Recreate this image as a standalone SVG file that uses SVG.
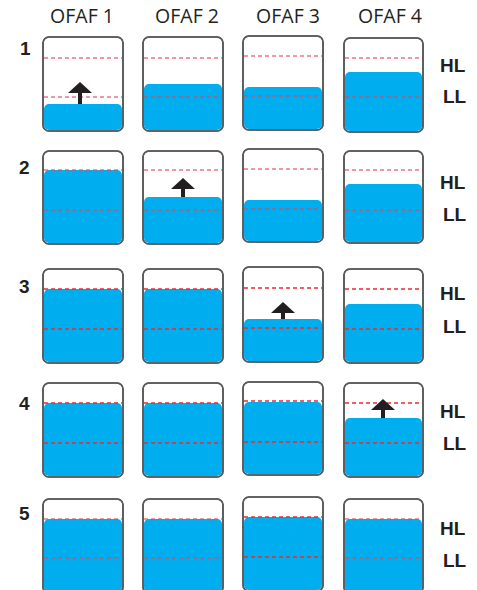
<svg xmlns="http://www.w3.org/2000/svg" width="477" height="590" viewBox="0 0 477 590">
<style>
.hdr{font-family:"Open Sans","Liberation Sans",sans-serif;font-size:19.5px;fill:#231f20;text-anchor:middle}
.num{font-family:"Liberation Sans",Arial,sans-serif;font-size:19px;font-weight:bold;fill:#231f20}
.lvl{font-family:"Liberation Sans",Arial,sans-serif;font-size:19px;font-weight:bold;fill:#231f20}
.tank{fill:#ffffff;stroke:#58595b;stroke-width:1.6}
.outline{fill:none;stroke:#58595b;stroke-width:1.6}
.water{fill:#00aeef}
.da{stroke:#e04858;stroke-opacity:0.75;stroke-width:1.5;stroke-dasharray:4 3;fill:none}
.db{stroke:#ee2a2e;stroke-width:1.3;stroke-dasharray:4 3;fill:none}
.arrow{fill:#231f20}
</style>
<g id="headers">
<text class="hdr" x="82" y="23">OFAF 1</text>
<text class="hdr" x="187" y="23">OFAF 2</text>
<text class="hdr" x="288" y="23">OFAF 3</text>
<text class="hdr" x="390" y="23">OFAF 4</text>
</g>
<g id="row-numbers">
<text class="num" x="20" y="55">1</text>
<text class="num" x="19" y="174">2</text>
<text class="num" x="19" y="293">3</text>
<text class="num" x="19" y="410">4</text>
<text class="num" x="19" y="520">5</text>
</g>
<g id="level-labels">
<text class="lvl" x="440" y="72">HL</text><text class="lvl" x="443" y="103">LL</text>
<text class="lvl" x="440" y="189">HL</text><text class="lvl" x="443" y="221">LL</text>
<text class="lvl" x="440" y="300">HL</text><text class="lvl" x="443" y="333">LL</text>
<text class="lvl" x="440" y="418">HL</text><text class="lvl" x="443" y="450">LL</text>
<text class="lvl" x="440" y="535">HL</text><text class="lvl" x="443" y="567">LL</text>
</g>

<!-- Row 1 -->
<g id="r1c1"><rect class="tank" x="43" y="37" width="80" height="94" rx="6"/><rect class="water" x="44" y="104" width="78" height="26" rx="5"/><line class="da" x1="44" y1="58" x2="122" y2="58"/><line class="da" x1="44" y1="97" x2="122" y2="97"/><rect class="outline" x="43" y="37" width="80" height="94" rx="6"/><path class="arrow" d="M80,82 L92,93 L82,93 L82,104 L78,104 L78,93 L68,93 Z"/></g>
<g id="r1c2"><rect class="tank" x="143" y="37" width="80" height="94" rx="6"/><rect class="water" x="144" y="84" width="78" height="46" rx="5"/><line class="da" x1="144" y1="58" x2="222" y2="58"/><line class="da" x1="144" y1="97" x2="222" y2="97"/><rect class="outline" x="143" y="37" width="80" height="94" rx="6"/></g>
<g id="r1c3"><rect class="tank" x="243" y="36" width="80" height="94" rx="6"/><rect class="water" x="244" y="87" width="78" height="42" rx="5"/><line class="da" x1="244" y1="56" x2="322" y2="56"/><line class="da" x1="244" y1="96" x2="322" y2="96"/><rect class="outline" x="243" y="36" width="80" height="94" rx="6"/></g>
<g id="r1c4"><rect class="tank" x="344" y="38" width="79" height="94" rx="6"/><rect class="water" x="345" y="72" width="77" height="59" rx="5"/><line class="da" x1="345" y1="58" x2="422" y2="58"/><line class="da" x1="345" y1="97" x2="422" y2="97"/><rect class="outline" x="344" y="38" width="79" height="94" rx="6"/></g>

<!-- Row 2 -->
<g id="r2c1"><rect class="tank" x="43" y="151" width="80" height="93" rx="6"/><rect class="water" x="44" y="170" width="78" height="73" rx="5"/><line class="da" x1="44" y1="170" x2="122" y2="170"/><line class="da" x1="44" y1="210" x2="122" y2="210"/><rect class="outline" x="43" y="151" width="80" height="93" rx="6"/></g>
<g id="r2c2"><rect class="tank" x="143" y="151" width="80" height="93" rx="6"/><rect class="water" x="144" y="197" width="78" height="46" rx="5"/><line class="da" x1="144" y1="170" x2="222" y2="170"/><line class="da" x1="144" y1="210" x2="222" y2="210"/><rect class="outline" x="143" y="151" width="80" height="93" rx="6"/><path class="arrow" d="M183,178 L195,189 L185,189 L185,197 L181,197 L181,189 L171,189 Z"/></g>
<g id="r2c3"><rect class="tank" x="243" y="149" width="80" height="93" rx="6"/><rect class="water" x="244" y="200" width="78" height="41" rx="5"/><line class="da" x1="244" y1="169" x2="322" y2="169"/><line class="da" x1="244" y1="209" x2="322" y2="209"/><rect class="outline" x="243" y="149" width="80" height="93" rx="6"/></g>
<g id="r2c4"><rect class="tank" x="344" y="151" width="79" height="92" rx="6"/><rect class="water" x="345" y="184" width="77" height="58" rx="5"/><line class="da" x1="345" y1="170" x2="422" y2="170"/><line class="da" x1="345" y1="210" x2="422" y2="210"/><rect class="outline" x="344" y="151" width="79" height="92" rx="6"/></g>

<!-- Row 3 -->
<g id="r3c1"><rect class="tank" x="43" y="269" width="80" height="94" rx="6"/><rect class="water" x="44" y="289" width="78" height="73" rx="5"/><line class="db" x1="44" y1="289" x2="122" y2="289"/><line class="db" x1="44" y1="329" x2="122" y2="329"/><rect class="outline" x="43" y="269" width="80" height="94" rx="6"/></g>
<g id="r3c2"><rect class="tank" x="143" y="269" width="80" height="94" rx="6"/><rect class="water" x="144" y="289" width="78" height="73" rx="5"/><line class="db" x1="144" y1="289" x2="222" y2="289"/><line class="db" x1="144" y1="329" x2="222" y2="329"/><rect class="outline" x="143" y="269" width="80" height="94" rx="6"/></g>
<g id="r3c3"><rect class="tank" x="243" y="267" width="80" height="95" rx="6"/><rect class="water" x="244" y="319" width="78" height="42" rx="5"/><line class="db" x1="244" y1="288" x2="322" y2="288"/><line class="db" x1="244" y1="328" x2="322" y2="328"/><rect class="outline" x="243" y="267" width="80" height="95" rx="6"/><path class="arrow" d="M283,302 L295,313 L285,313 L285,319 L281,319 L281,313 L271,313 Z"/></g>
<g id="r3c4"><rect class="tank" x="344" y="269" width="79" height="94" rx="6"/><rect class="water" x="345" y="304" width="77" height="58" rx="5"/><line class="db" x1="345" y1="289" x2="422" y2="289"/><line class="db" x1="345" y1="329" x2="422" y2="329"/><rect class="outline" x="344" y="269" width="79" height="94" rx="6"/></g>

<!-- Row 4 -->
<g id="r4c1"><rect class="tank" x="43" y="383" width="80" height="94" rx="6"/><rect class="water" x="44" y="403" width="78" height="73" rx="5"/><line class="db" x1="44" y1="403" x2="122" y2="403"/><line class="db" x1="44" y1="443" x2="122" y2="443"/><rect class="outline" x="43" y="383" width="80" height="94" rx="6"/></g>
<g id="r4c2"><rect class="tank" x="143" y="383" width="80" height="94" rx="6"/><rect class="water" x="144" y="403" width="78" height="73" rx="5"/><line class="db" x1="144" y1="403" x2="222" y2="403"/><line class="db" x1="144" y1="443" x2="222" y2="443"/><rect class="outline" x="143" y="383" width="80" height="94" rx="6"/></g>
<g id="r4c3"><rect class="tank" x="243" y="382" width="80" height="93" rx="6"/><rect class="water" x="244" y="402" width="78" height="72" rx="5"/><line class="db" x1="244" y1="401" x2="322" y2="401"/><line class="db" x1="244" y1="442" x2="322" y2="442"/><rect class="outline" x="243" y="382" width="80" height="93" rx="6"/></g>
<g id="r4c4"><rect class="tank" x="344" y="383" width="79" height="94" rx="6"/><rect class="water" x="345" y="418" width="77" height="58" rx="5"/><line class="db" x1="345" y1="403" x2="422" y2="403"/><line class="db" x1="345" y1="443" x2="422" y2="443"/><rect class="outline" x="344" y="383" width="79" height="94" rx="6"/><path class="arrow" d="M383,399 L395,410 L385,410 L385,418 L381,418 L381,410 L371,410 Z"/></g>

<!-- Row 5 -->
<g id="r5c1"><rect class="tank" x="43" y="499" width="80" height="94" rx="6"/><rect class="water" x="44" y="519" width="78" height="73" rx="5"/><line class="da" x1="44" y1="519" x2="122" y2="519"/><line class="da" x1="44" y1="558" x2="122" y2="558"/><rect class="outline" x="43" y="499" width="80" height="94" rx="6"/></g>
<g id="r5c2"><rect class="tank" x="143" y="499" width="80" height="94" rx="6"/><rect class="water" x="144" y="519" width="78" height="73" rx="5"/><line class="da" x1="144" y1="519" x2="222" y2="519"/><line class="da" x1="144" y1="558" x2="222" y2="558"/><rect class="outline" x="143" y="499" width="80" height="94" rx="6"/></g>
<g id="r5c3"><rect class="tank" x="243" y="497" width="80" height="94" rx="6"/><rect class="water" x="244" y="517" width="78" height="73" rx="5"/><line class="db" x1="244" y1="517" x2="322" y2="517"/><line class="db" x1="244" y1="557" x2="322" y2="557"/><rect class="outline" x="243" y="497" width="80" height="94" rx="6"/></g>
<g id="r5c4"><rect class="tank" x="344" y="499" width="79" height="94" rx="6"/><rect class="water" x="345" y="519" width="77" height="73" rx="5"/><line class="da" x1="345" y1="519" x2="422" y2="519"/><line class="da" x1="345" y1="558" x2="422" y2="558"/><rect class="outline" x="344" y="499" width="79" height="94" rx="6"/></g>
<g id="connectors"/>
</svg>
